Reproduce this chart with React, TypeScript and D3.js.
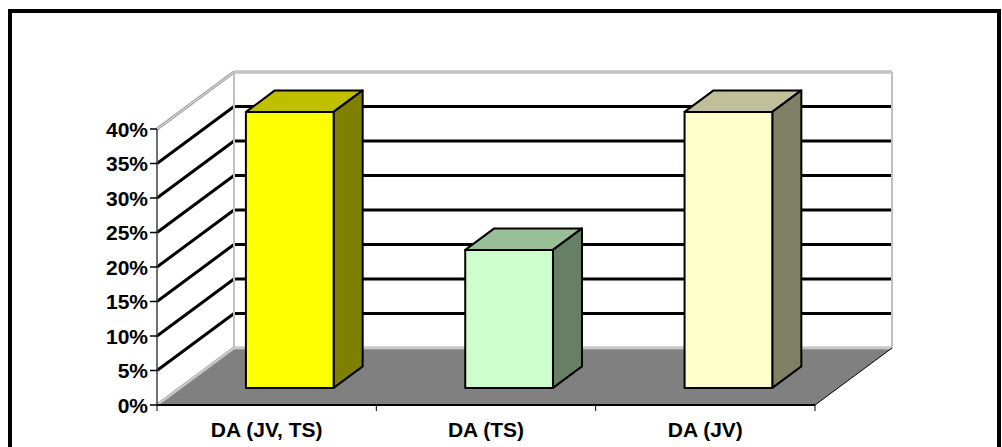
import React from "react";
import * as d3 from "d3";

// Chart data
const categories = ["DA (JV, TS)", "DA (TS)", "DA (JV)"];
const values = [0.4, 0.2, 0.4];
const tickValues = [0, 0.05, 0.1, 0.15, 0.2, 0.25, 0.3, 0.35, 0.4];
const frontColors = ["#FFFF00", "#CCFFCC", "#FFFFCC"];

const W = 1002;
const H = 447;

// Front plane of the plot and the depth vector of the 3D box
const X0 = 157;
const X1 = 815;
const Y_BASE = 405;
const Y_TOP = 129;
const DEPTH = { dx: 77, dy: -57 };
const BAR_T0 = 0.3;
const BAR_T1 = 0.677;

const x = d3.scaleBand<string>().domain(categories).range([X0, X1]).paddingInner(0.6).paddingOuter(0.3);
const y = d3.scaleLinear().domain([0, 0.4]).range([Y_BASE, Y_TOP]);
const step = x.step();

const at = (px: number, py: number, t: number): [number, number] => [px + t * DEPTH.dx, py + t * DEPTH.dy];
const pts = (arr: [number, number][]) => arr.map((p) => p.join(",")).join(" ");

function shade(c: string, k: number) {
  const col = d3.rgb(c);
  return d3.rgb(col.r * k, col.g * k, col.b * k).formatHex();
}

export default function App() {
  const backLeft = X0 + DEPTH.dx;
  const backRight = X1 + DEPTH.dx;
  const backBase = Y_BASE + DEPTH.dy;
  const backTop = Y_TOP + DEPTH.dy;
  const font = "'Liberation Sans', Arial, sans-serif";

  return (
    <svg width={W} height={H} style={{ display: "block", position: "absolute", left: 0, top: 0 }}>
      <rect x={0} y={0} width={W} height={H} fill="#fff" />
      {/* outer frame */}
      <rect x={10} y={11} width={989} height={500} fill="none" stroke="#000" strokeWidth={4} />

      {/* back wall */}
      <rect x={backLeft} y={backTop} width={backRight - backLeft} height={backBase - backTop} fill="#fff" />
      {/* left wall */}
      <polygon points={pts([[X0, Y_BASE], [X0, Y_TOP], [backLeft, backTop], [backLeft, backBase]])} fill="#fff" />

      {/* floor */}
      <polygon
        points={pts([[X0, Y_BASE], [X1, Y_BASE], [backRight, backBase], [backLeft, backBase]])}
        fill="#808080"
      />

      {/* gridlines on walls */}
      {tickValues.filter((v) => v > 0 && v < 0.4).map((v) => (
        <g key={"g" + v}>
          <line x1={backLeft} x2={backRight + 1} y1={y(v) + DEPTH.dy} y2={y(v) + DEPTH.dy} stroke="#000" strokeWidth={3} />
          <line x1={X0} y1={y(v)} x2={backLeft} y2={y(v) + DEPTH.dy} stroke="#000" strokeWidth={3} />
        </g>
      ))}

      {/* wall edges */}
      <line x1={backLeft} y1={backTop} x2={backRight} y2={backTop} stroke="#a0a0a0" strokeWidth={3} />
      <line x1={backLeft} y1={backTop} x2={backRight} y2={backTop} stroke="#e8e8e8" strokeWidth={1} />
      <line x1={X0} y1={Y_TOP} x2={backLeft} y2={backTop} stroke="#a0a0a0" strokeWidth={3} />
      <line x1={X0} y1={Y_TOP} x2={backLeft} y2={backTop} stroke="#e8e8e8" strokeWidth={1} />
      <line x1={backLeft} y1={backTop} x2={backLeft} y2={backBase} stroke="#c0c0c0" strokeWidth={2} />
      <line x1={backRight} y1={backTop} x2={backRight} y2={backBase} stroke="#c0c0c0" strokeWidth={2} />
      <line x1={backLeft} y1={backBase} x2={backRight} y2={backBase} stroke="#b0b0b0" strokeWidth={3} />
      <line x1={backLeft} y1={backBase} x2={backRight} y2={backBase} stroke="#e0e0e0" strokeWidth={1} />
      <line x1={X0} y1={Y_BASE} x2={backLeft} y2={backBase} stroke="#b0b0b0" strokeWidth={3} />
      <line x1={X0} y1={Y_BASE} x2={backLeft} y2={backBase} stroke="#e0e0e0" strokeWidth={1} />

      {/* floor front and right edges */}
      <line x1={X0} y1={Y_BASE} x2={X1} y2={Y_BASE} stroke="#000" strokeWidth={2} />
      <line x1={X1} y1={Y_BASE} x2={backRight} y2={backBase} stroke="#000" strokeWidth={1} />

      {/* bars */}
      {categories.map((c, i) => {
        const bx0 = x(c)!;
        const bx1 = bx0 + x.bandwidth();
        const yb = y(0);
        const yt = y(values[i]);
        const f = frontColors[i];
        const A = at(bx0, yt, BAR_T0);
        const B = at(bx1, yt, BAR_T0);
        const C = at(bx1, yb, BAR_T0);
        const D = at(bx0, yb, BAR_T0);
        const A2 = at(bx0, yt, BAR_T1);
        const B2 = at(bx1, yt, BAR_T1);
        const C2 = at(bx1, yb, BAR_T1);
        return (
          <g key={c} stroke="#000" strokeWidth={2} strokeLinejoin="round">
            <polygon points={pts([A, B, B2, A2])} fill={shade(f, 0.75)} />
            <polygon points={pts([B, C, C2, B2])} fill={shade(f, 0.5)} />
            <polygon points={pts([A, B, C, D])} fill={f} />
          </g>
        );
      })}

      {/* value axis */}
      <line x1={X0} y1={Y_TOP} x2={X0} y2={Y_BASE} stroke="#404040" strokeWidth={1.5} />
      {tickValues.map((v) => (
        <g key={"t" + v}>
          <line x1={X0 - 7} x2={X0} y1={y(v)} y2={y(v)} stroke="#000" strokeWidth={1.5} />
          <text
            x={X0 - 9}
            y={y(v)}
            dy="0.36em"
            textAnchor="end"
            fontFamily={font}
            fontWeight="bold"
            fontSize={21}
            fill="#000"
          >
            {d3.format(".0%")(v)}
          </text>
        </g>
      ))}

      {/* category axis */}
      {[0, 1, 2, 3].map((k) => (
        <line key={"c" + k} x1={X0 + k * step} x2={X0 + k * step} y1={Y_BASE} y2={Y_BASE + 6} stroke="#000" strokeWidth={1} />
      ))}
      {categories.map((c) => (
        <text
          key={"l" + c}
          x={x(c)! + x.bandwidth() / 2}
          y={437}
          textAnchor="middle"
          fontFamily={font}
          fontWeight="bold"
          fontSize={21}
          fill="#000"
        >
          {c}
        </text>
      ))}
    </svg>
  );
}
